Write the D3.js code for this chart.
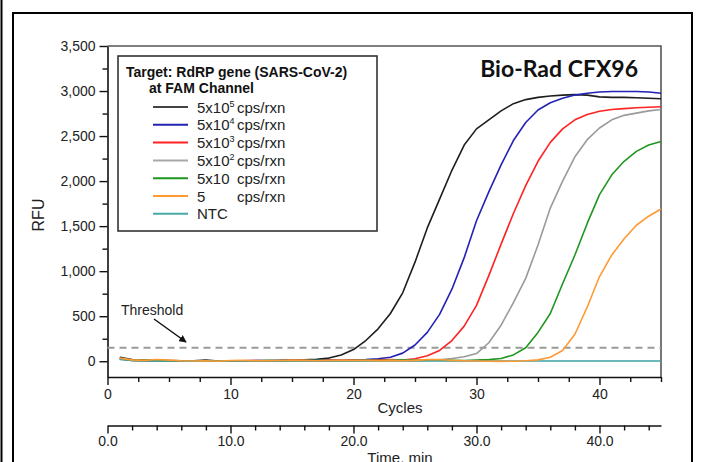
<!DOCTYPE html>
<html>
<head>
<meta charset="utf-8">
<script src="https://cdn.jsdelivr.net/npm/d3@7"></script>
<style>
  body { margin: 0; background: #fff; }
  text { font-family: "Liberation Sans", Arial, sans-serif; }
</style>
</head>
<body>
<div id="chart"></div>
<script>
// Data
const cycles = [1,2,3,4,5,6,7,8,9,10,11,12,13,14,15,16,17,18,19,20,21,22,23,24,25,26,27,28,29,30,31,32,33,34,35,36,37,38,39,40,41,42,43,44,45];

const black5e5 = [45,18,12,10,8,6,6,14,2,6, 6,6,8,10,12,15,22,35,70,130, 230,360,530,760,1100,1480,1800,2120,2400,2580, 2680,2780,2860,2905,2930,2945,2955,2960,2955,2935, 2930,2930,2925,2920,2915];
const blue5e4 = [30,12,8,6,5,5,6,5,0,5, 6,8,6,5,8,10,12,10,14,16, 20,28,45,90,180,320,520,800,1150,1560, 1880,2180,2450,2650,2790,2870,2920,2955,2975,2990, 2995,2995,2995,2990,2975];
const red5e3 = [25,10,8,6,5,4,5,6,2,4, 6,8,5,6,8,10,6,12,8,10, 12,15,18,14,28,60,120,230,390,620, 950,1300,1640,1950,2220,2430,2580,2680,2740,2775, 2795,2805,2815,2820,2825];
const gray5e2 = [28,12,8,6,5,6,5,4,2,5, 5,6,8,5,6,8,6,8,6,8, 10,8,10,12,10,8,15,30,50,85, 205,400,650,920,1290,1700,2000,2270,2460,2590, 2680,2730,2755,2780,2795];
const green50 = [30,10,12,8,6,5,4,5,3,5, 6,5,8,6,5,8,10,8,6,8, 10,8,10,12,10,14,12,10,8,12, 18,30,70,150,320,530,860,1180,1530,1850, 2070,2220,2330,2400,2440];
const orange5 = [35,15,10,20,12,5,2,5,0,8, 10,6,5,8,12,10,6,8,12,10, 8,5,10,6,10,18,20,10,5,2, 0,-2,0,5,15,45,120,300,600,940, 1180,1360,1510,1610,1690];
const ntc = [20,8,4,3,2,2,2,2,2,2, 2,2,2,2,2,2,2,2,2,2, 2,2,2,2,2,2,2,2,2,2, 2,2,2,2,2,2,2,2,2,2, 2,2,2,2,2];

const threshold = 150;

const legendBase = ["5x10", "5x10", "5x10", "5x10", "5x10", "5", "NTC"];
const legendSup = ["5", "4", "3", "2", "", "", ""];
const legendUnit = ["cps/rxn", "cps/rxn", "cps/rxn", "cps/rxn", "cps/rxn", "cps/rxn", ""];

const series = [
  { values: black5e5, color: "#1e1e1e" },
  { values: blue5e4, color: "#2222b4" },
  { values: red5e3, color: "#ff2222" },
  { values: gray5e2, color: "#9a9a9a" },
  { values: green50, color: "#1f961f" },
  { values: ntc, color: "#3ea3a3" },
  { values: orange5, color: "#ff9a33" },
];
const legendColors = ["#444444", "#2222b4", "#ff2222", "#a8a8a8", "#1f961f", "#ff9a33", "#4aa8a8"];

const cycleTicks = [0, 10, 20, 30, 40];
const yTicks = [0, 500, 1000, 1500, 2000, 2500, 3000, 3500];
const timeTicks = [0, 10, 20, 30, 40];

// Dimensions
const width = 701;
const height = 462;
const plot = { left: 107.5, right: 661, top: 46, bottom: 377 };

const svg = d3.select("#chart").append("svg")
  .attr("width", width).attr("height", height);

// outer frames
svg.append("line").attr("x1", 1.5).attr("x2", 1.5).attr("y1", 0).attr("y2", height)
  .attr("stroke", "#000").attr("stroke-width", 2);
svg.append("path").attr("d", `M13,${height + 2}V13H692V${height + 2}`)
  .attr("fill", "none").attr("stroke", "#000").attr("stroke-width", 2);

// Scales
const xScale = d3.scaleLinear().domain([0, 45]).range([plot.left, plot.right]);
const yScale = d3.scaleLinear().domain([-175, 3500]).range([plot.bottom, plot.top]);

// plot box (top and right)
svg.append("path")
  .attr("d", `M${plot.left},${plot.top}H${plot.right}V${plot.bottom}`)
  .attr("fill", "none").attr("stroke", "#555").attr("stroke-width", 1.6);

// Axes
function styleAxis(g) {
  g.selectAll("path.domain").attr("stroke", "#111").attr("stroke-width", 1.6);
  g.selectAll(".tick line").attr("stroke", "#111").attr("stroke-width", 1.4);
  g.selectAll(".tick text").attr("fill", "#222").style("font-size", "14px")
    .style("font-family", "'Liberation Sans', Arial, sans-serif");
}

const xAxis = svg.append("g").attr("transform", `translate(0,${plot.bottom})`)
  .call(d3.axisBottom(xScale).tickValues(cycleTicks).tickSize(8).tickSizeOuter(0).tickPadding(4));
styleAxis(xAxis);
const xMinor = svg.append("g").attr("transform", `translate(0,${plot.bottom})`)
  .call(d3.axisBottom(xScale).tickValues(d3.range(2.5, 45.1, 2.5).filter(d => d % 10 !== 0))
    .tickSize(5).tickSizeOuter(0).tickFormat(""));
styleAxis(xMinor);
xMinor.select("path.domain").remove();

const yAxis = svg.append("g").attr("transform", `translate(${plot.left},0)`)
  .call(d3.axisLeft(yScale).tickValues(yTicks).tickSize(8).tickSizeOuter(0)
    .tickFormat(d3.format(",")).tickPadding(4));
styleAxis(yAxis);
const yMinor = svg.append("g").attr("transform", `translate(${plot.left},0)`)
  .call(d3.axisLeft(yScale).tickValues(d3.range(250, 3500, 500)).tickSize(5).tickSizeOuter(0).tickFormat(""));
styleAxis(yMinor);
yMinor.select("path.domain").remove();

// time axis
const timeY = 425.5;
const tAxis = svg.append("g").attr("transform", `translate(0,${timeY})`)
  .call(d3.axisBottom(xScale).tickValues(timeTicks).tickSize(8).tickSizeOuter(0)
    .tickFormat(d3.format(".1f")).tickPadding(3));
styleAxis(tAxis);
const tMinor = svg.append("g").attr("transform", `translate(0,${timeY})`)
  .call(d3.axisBottom(xScale).tickValues(d3.range(2, 45, 2).filter(d => d % 10 !== 0))
    .tickSize(5).tickSizeOuter(0).tickFormat(""));
styleAxis(tMinor);
tMinor.select("path.domain").remove();

// axis titles
svg.append("text").attr("x", 400).attr("y", 413).attr("text-anchor", "middle")
  .attr("fill", "#222").style("font-size", "15px").text("Cycles");
svg.append("text").attr("x", 400).attr("y", 463).attr("text-anchor", "middle")
  .attr("fill", "#222").style("font-size", "15px").text("Time, min");
svg.append("text").attr("transform", "translate(44,215) rotate(-90)")
  .attr("text-anchor", "middle").attr("fill", "#222").style("font-size", "16px").text("RFU");

// Threshold
svg.append("line")
  .attr("x1", xScale(0)).attr("x2", xScale(45))
  .attr("y1", yScale(threshold)).attr("y2", yScale(threshold))
  .attr("stroke", "#9a9a9a").attr("stroke-width", 2).attr("stroke-dasharray", "7,5");

svg.append("defs").append("marker")
  .attr("id", "arrow").attr("viewBox", "0 0 10 10").attr("refX", 9).attr("refY", 5)
  .attr("markerWidth", 5).attr("markerHeight", 5).attr("orient", "auto")
  .append("path").attr("d", "M0,0L10,5L0,10Z").attr("fill", "#111");
svg.append("line").attr("x1", 154).attr("y1", 319).attr("x2", 186).attr("y2", 342)
  .attr("stroke", "#111").attr("stroke-width", 1.5).attr("marker-end", "url(#arrow)");
svg.append("text").attr("x", 121).attr("y", 315).attr("fill", "#222")
  .style("font-size", "14px").text("Threshold");

// Lines
const lineGenerator = d3.line()
  .x((d, i) => xScale(cycles[i]))
  .y((d) => yScale(d));

series.forEach((s) => {
  svg.append("path")
    .datum(s.values)
    .attr("d", lineGenerator)
    .attr("fill", "none")
    .attr("stroke", s.color)
    .attr("stroke-width", 1.6)
    .attr("stroke-linejoin", "round");
});

// Legend
const lg = svg.append("g");
lg.append("rect").attr("x", 118).attr("y", 56).attr("width", 259).attr("height", 175)
  .attr("fill", "#fff").attr("stroke", "#333").attr("stroke-width", 1.6);
lg.append("text").attr("x", 126).attr("y", 77).attr("fill", "#111")
  .style("font-size", "14px").style("font-weight", "bold").text("Target: RdRP gene (SARS-CoV-2)");
lg.append("text").attr("x", 149).attr("y", 93).attr("fill", "#111")
  .style("font-size", "14px").style("font-weight", "bold").text("at FAM Channel");

legendBase.forEach((label, i) => {
  const yb = 112.5 + i * 17.8;
  lg.append("line").attr("x1", 153).attr("x2", 188).attr("y1", yb - 5.5).attr("y2", yb - 5.5)
    .attr("stroke", legendColors[i]).attr("stroke-width", 2);
  const t = lg.append("text").attr("x", 197).attr("y", yb).attr("fill", "#222")
    .style("font-size", "15px").text(label);
  if (legendSup[i]) {
    t.append("tspan").attr("dy", -6).style("font-size", "9px").text(legendSup[i]);
  }
  if (legendUnit[i]) {
    lg.append("text").attr("x", 237).attr("y", yb).attr("fill", "#222")
      .style("font-size", "15px").text(legendUnit[i]);
  }
});

// Instrument label
svg.append("text").attr("x", 638).attr("y", 77).attr("text-anchor", "end")
  .attr("fill", "#111").style("font-family", "Lato, sans-serif")
  .style("font-size", "23px").style("font-weight", "bold")
  .text("Bio-Rad CFX96");
</script>
</body>
</html>
